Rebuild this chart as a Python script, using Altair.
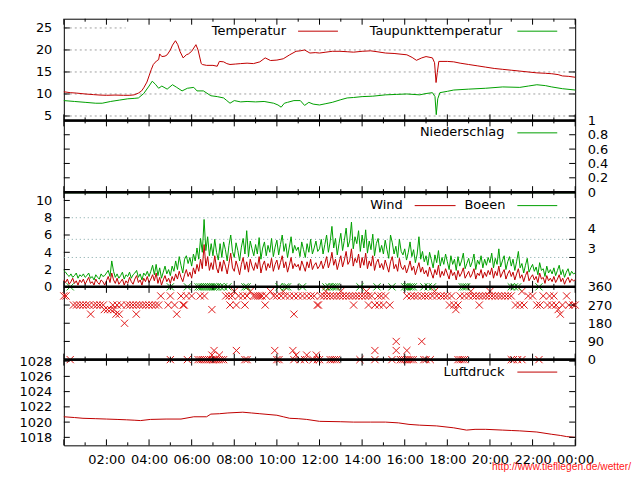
import altair as alt
import pandas as pd

# ---------------- data ----------------
temp_h = [0.0, 0.3, 0.6, 1.0, 1.4, 1.7, 2.0, 2.4, 2.8, 3.1, 3.3, 3.5, 3.65, 3.75, 3.9, 4.0, 4.1, 4.2,
          4.35, 4.45, 4.5, 4.6, 4.75, 4.85, 5.0, 5.1, 5.24, 5.35, 5.45, 5.6, 5.75, 5.85, 6.0, 6.2, 6.3,
          6.45, 6.5, 6.7, 7.0, 7.2, 7.3, 7.5, 7.65, 7.8, 8.05, 8.3, 8.6, 8.9, 9.2, 9.45, 9.7, 10.0, 10.3,
          10.6, 10.9, 11.1, 11.3, 11.55, 11.8, 12.0, 12.3, 12.6, 12.96, 13.3, 13.6, 14.0, 14.4, 14.7,
          15.1, 15.5, 16.1, 16.35, 16.55, 16.8, 17.0, 17.3, 17.4, 17.47, 17.53, 17.6, 18.0, 18.3, 18.6,
          19.0, 19.4, 19.8, 20.2, 20.6, 21.0, 21.4, 21.8, 22.2, 22.6, 22.9, 23.2, 23.4, 23.7, 24.0]
temp_v = [10.5, 10.3, 10.2, 10.0, 9.85, 9.75, 9.7, 9.75, 9.7, 9.7, 9.8, 10.2, 10.7, 11.4, 12.7, 14.1, 15.5, 16.7,
          17.5, 17.8, 19.1, 18.5, 18.6, 18.9, 20.0, 21.1, 22.1, 21.2, 19.7, 18.2, 18.9, 19.1, 19.7, 21.2, 20.0,
          16.9, 16.7, 16.5, 16.5, 16.3, 17.4, 17.3, 16.9, 16.7, 16.8, 16.9, 17.0, 16.9, 17.3, 18.2, 17.6, 17.7, 18.0,
          18.9, 19.7, 19.8, 20.0, 19.3, 19.4, 19.3, 19.5, 19.7, 19.7, 19.6, 19.5, 19.7, 19.8, 19.6,
          19.3, 19.2, 18.9, 18.3, 17.65, 18.2, 18.5, 18.2, 17.1, 12.6, 14.9, 17.4, 17.4, 17.3, 17.0,
          16.7, 16.4, 16.1, 15.8, 15.6, 15.4, 15.2, 15.0, 14.8, 14.7, 14.6, 14.4, 14.1, 14.0, 13.8]

dew_h = [0.0, 0.5, 1.0, 1.5, 1.8, 2.2, 2.6, 3.0, 3.3, 3.5, 3.75, 4.0, 4.15, 4.3, 4.45, 4.6, 4.85, 5.1,
         5.3, 5.55, 5.8, 6.1, 6.25, 6.55, 6.9, 7.2, 7.5, 7.65, 7.8, 8.0, 8.3, 8.6, 9.0, 9.4, 9.85, 10.05,
         10.2, 10.35, 10.5, 10.8, 11.1, 11.3, 11.5, 11.7, 12.0, 12.3, 12.6, 13.0, 13.3, 13.6, 14.0, 14.5,
         15.1, 15.6, 16.1, 16.7, 17.0, 17.3, 17.42, 17.48, 17.55, 17.65, 18.0, 18.3, 19.0, 19.8, 20.6,
         21.4, 21.8, 22.2, 22.6, 22.9, 23.4, 24.0]
dew_v = [8.5, 8.3, 8.1, 7.9, 7.9, 8.3, 8.6, 8.9, 9.0, 9.1, 10.1, 11.8, 12.9, 12.2, 11.3, 11.8, 11.1, 12.1,
         11.5, 10.7, 11.3, 11.5, 10.7, 10.7, 9.6, 9.4, 9.1, 8.5, 7.9, 8.5, 8.2, 8.3, 8.2, 8.3, 7.9, 7.5,
         7.0, 7.9, 8.1, 8.5, 8.5, 7.4, 8.1, 7.7, 7.5, 7.8, 8.1, 8.7, 9.1, 9.2, 9.4, 9.5,
         9.8, 9.9, 10.0, 9.8, 10.1, 10.3, 9.4, 5.3, 8.9, 10.3, 10.6, 10.9, 11.1, 11.3, 11.6,
         11.5, 11.8, 12.1, 11.9, 11.6, 11.2, 10.9]

rain_h = [0, 6, 12, 18, 24]
rain_v = [0, 0, 0, 0, 0]

# wind and gusts, one value every 5 minutes (00:00 ... 24:00)
wind_v = [
    0.8, 0.5, 0.9, 0.3, 0.6, 1.0, 0.4, 0.7, 0.2, 0.8, 0.5, 0.9,
    0.3, 0.7, 1.1, 0.4, 0.6, 0.2, 0.9, 0.5, 0.3, 0.8, 0.6, 0.2,
    0.7, 1.2, 0.5, 1.6, 0.8, 0.4, 1.0, 0.3, 0.6, 0.9, 0.2, 0.7,
    0.4, 1.1, 0.6, 0.3, 0.9, 1.3, 0.5, 0.8, 0.2, 1.0, 0.6, 1.2,
    0.5, 0.9, 1.4, 0.7, 1.6, 0.4, 1.1, 0.2, 0.8, 1.3, 0.6, 1.0,
    0.4, 1.2, 0.7, 1.5, 0.9, 1.8, 1.1, 0.6, 1.4, 2.0, 1.2, 1.7,
    1.0, 2.2, 1.5, 2.6, 1.8, 3.2, 2.1, 4.9, 2.4, 3.5, 1.9, 2.8,
    2.0, 3.6, 2.2, 1.6, 2.9, 1.8, 3.1, 2.4, 1.5, 2.7, 3.9, 2.2,
    1.8, 3.0, 2.3, 1.4, 2.6, 3.4, 2.0, 2.9, 1.7, 3.2, 2.4, 1.9,
    2.8, 2.1, 3.5, 1.6, 2.5, 3.0, 1.9, 2.7, 2.2, 3.3, 1.8, 2.6,
    3.1, 2.0, 2.8, 3.6, 2.2, 2.9, 1.7, 2.5, 3.4, 2.1, 2.7, 2.3,
    2.6, 1.9, 3.0, 2.4, 1.8, 2.9, 2.2, 3.2, 2.0, 2.5, 2.8, 2.1,
    2.4, 3.0, 2.1, 2.7, 3.5, 2.2, 2.9, 4.0, 2.5, 3.2, 2.0, 2.8,
    3.6, 2.3, 3.1, 4.1, 2.6, 3.0, 4.4, 2.4, 3.3, 2.8, 3.8, 2.2,
    3.4, 2.5, 3.9, 2.1, 3.0, 2.4, 3.6, 1.9, 2.8, 3.2, 2.2, 2.7,
    2.0, 3.1, 2.4, 1.7, 2.9, 3.5, 2.1, 2.6, 1.8, 3.3, 2.3, 2.0,
    2.5, 1.6, 2.2, 3.0, 1.9, 2.4, 1.4, 2.1, 2.8, 1.7, 2.3, 1.5,
    1.9, 1.2, 2.3, 1.6, 1.0, 2.0, 1.4, 2.5, 1.1, 1.8, 1.3, 2.1,
    1.5, 0.9, 2.0, 1.3, 1.7, 0.8, 1.9, 1.2, 1.6, 2.2, 1.0, 1.4,
    1.8, 1.1, 1.5, 2.1, 0.9, 1.6, 1.3, 2.0, 1.0, 1.7, 1.2, 1.9,
    1.4, 2.2, 1.0, 1.8, 1.3, 2.4, 1.1, 1.6, 2.0, 0.9, 1.5, 1.9,
    1.2, 1.7, 0.8, 1.5, 2.1, 1.0, 1.4, 0.6, 1.3, 1.8, 0.7, 1.1,
    1.4, 0.8, 1.2, 0.5, 1.6, 0.9, 1.1, 0.4, 1.3, 0.7, 1.0, 0.6,
    1.2, 0.5, 0.9, 1.4, 0.6, 1.0, 0.3, 0.8, 1.1, 0.5, 0.9, 0.7,
    0.8]
gust_v = [
    1.9, 1.7, 1.4, 1.2, 1.5, 1.1, 1.3, 1.6, 1.0, 1.4, 1.2, 1.5,
    1.1, 1.3, 1.6, 1.0, 1.2, 0.8, 1.4, 1.1, 0.9, 1.5, 1.2, 1.3,
    1.6, 1.9, 1.2, 3.0, 1.8, 1.1, 1.5, 1.0, 1.3, 1.7, 0.9, 1.4,
    1.2, 1.7, 1.0, 1.4, 1.6, 1.9, 1.1, 1.5, 0.8, 1.6, 1.3, 1.8,
    1.2, 1.8, 2.5, 1.4, 2.6, 1.3, 2.2, 1.0, 1.7, 2.4, 1.5, 2.0,
    1.3, 2.4, 1.8, 3.0, 2.0, 3.5, 2.5, 1.6, 3.2, 3.6, 2.7, 3.4,
    2.4, 3.8, 3.0, 4.5, 3.2, 5.6, 4.0, 7.8, 4.2, 5.8, 3.6, 5.0,
    3.6, 5.5, 4.0, 3.1, 5.0, 3.4, 5.2, 4.3, 3.0, 4.8, 6.0, 4.1,
    3.4, 5.1, 4.2, 3.0, 4.6, 5.6, 3.8, 6.5, 3.5, 5.3, 4.4, 3.6,
    4.9, 3.8, 5.7, 3.2, 4.5, 5.2, 3.6, 4.8, 4.0, 5.6, 3.5, 4.6,
    5.4, 3.7, 4.9, 6.0, 4.1, 5.0, 3.4, 4.6, 5.8, 3.9, 4.8, 4.2,
    4.6, 3.5, 5.2, 4.3, 3.4, 5.0, 4.0, 5.5, 3.8, 4.5, 5.3, 4.1,
    4.4, 5.5, 3.8, 4.9, 6.0, 4.0, 5.2, 7.0, 4.5, 5.6, 3.7, 5.0,
    6.2, 4.2, 5.4, 6.8, 4.6, 5.3, 7.5, 4.4, 5.8, 5.0, 6.5, 4.1,
    6.0, 4.5, 6.6, 3.9, 5.3, 4.3, 6.1, 3.6, 5.0, 5.6, 4.0, 4.8,
    3.8, 5.4, 4.3, 3.3, 6.0, 5.1, 3.8, 4.7, 3.4, 5.5, 4.1, 3.7,
    4.4, 3.1, 4.0, 5.2, 3.5, 4.3, 2.8, 3.8, 5.8, 3.2, 4.1, 2.9,
    3.6, 2.5, 4.0, 3.1, 2.2, 3.7, 2.8, 4.2, 2.4, 3.4, 2.6, 3.8,
    2.9, 2.0, 3.6, 2.6, 3.2, 1.9, 3.5, 2.4, 3.0, 3.9, 2.1, 2.7,
    3.3, 2.3, 2.9, 3.8, 2.0, 3.1, 2.6, 3.6, 2.2, 3.2, 2.5, 3.4,
    2.8, 3.9, 2.2, 3.3, 2.6, 4.4, 2.3, 3.0, 3.6, 2.0, 2.9, 3.5,
    2.4, 3.2, 1.9, 2.9, 4.1, 2.2, 2.7, 1.6, 2.5, 3.3, 1.7, 2.2,
    2.6, 1.8, 2.3, 1.4, 2.8, 1.9, 2.1, 1.2, 2.4, 1.6, 2.0, 1.5,
    2.2, 1.3, 1.9, 2.5, 1.4, 2.0, 1.1, 1.7, 2.1, 1.3, 1.8, 1.5,
    1.6]
wind_h = [i / 12 for i in range(len(wind_v))]

# wind direction (hours at which each compass direction was recorded)
dir_315_h = [0.0, 0.1, 4.55, 5.0, 5.5, 5.75, 6.0, 6.4, 6.6, 7.6, 7.75, 7.9, 8.2, 8.4, 8.6, 8.9, 9.0, 9.1,
             9.2, 9.3, 9.5, 9.85, 10.0, 10.2, 10.4, 10.6, 10.8, 11.0, 11.2, 11.4, 11.6, 11.75, 12.05, 12.2,
             12.35, 12.5, 12.65, 12.8, 12.95, 13.1, 13.25, 13.4, 13.55, 13.7, 13.85, 14.0, 14.15, 14.3,
             14.45, 14.75, 14.9, 15.1, 16.1, 16.3, 16.45, 16.6, 16.8, 16.95, 17.1, 17.3, 17.5, 17.7, 17.85,
             18.0, 18.2, 18.6, 18.8, 19.0, 19.2, 19.35, 19.5, 19.65, 19.8, 19.95, 20.1, 20.25, 20.4, 20.55,
             20.7, 20.85, 21.0, 21.8, 22.0, 22.5, 22.8, 23.0, 23.6]
dir_337_h = [8.0, 8.75, 9.7, 10.3, 12.3, 13.0, 14.2, 17.4, 19.1, 20.0, 21.5]
dir_270_h = [0.45, 0.6, 0.75, 0.9, 1.05, 1.2, 1.4, 1.55, 1.7, 1.85, 2.3, 2.5, 2.7, 2.95, 3.1, 3.25, 3.4,
             3.55, 3.7, 3.85, 4.0, 4.15, 4.3, 4.45, 4.9, 5.2, 5.6, 5.65, 7.8, 8.1, 8.5, 9.45, 11.9, 11.95,
             13.6, 14.3, 14.6, 14.8, 15.0, 15.3, 18.1, 18.3, 18.5, 19.5, 21.2, 21.4, 21.6, 22.2, 22.35,
             22.7, 22.9, 23.1, 23.4, 23.7, 23.9, 24.0]
dir_247_h = [1.9, 2.05, 2.2, 2.35, 6.95, 18.4, 23.2]
dir_225_h = [1.26, 2.45, 2.6, 3.4, 5.3, 10.8, 23.3]
dir_180_h = [2.85]
dir_90_h = [15.6, 16.8]
dir_45_h = [7.05, 8.1, 9.9, 10.75, 14.6, 15.6, 16.1]
dir_22_h = [6.95, 7.3, 10.9, 11.4, 11.85]
dir_0_h = [0.3, 5.0, 5.8, 6.3, 6.4, 6.5, 6.6, 6.7, 6.8, 6.9, 7.0, 7.1, 7.2, 7.3, 7.4, 7.5, 8.5, 8.6,
           10.0, 10.1, 10.8, 11.1, 11.3, 11.7, 11.9, 12.0, 12.5, 12.6, 12.7, 12.8, 13.9, 14.6, 15.4,
           15.8, 15.9, 16.0, 16.1, 16.2, 16.3, 16.4, 16.9, 17.0, 17.2, 18.5, 18.6, 18.7, 18.8, 21.0,
           21.1, 21.3, 21.5, 22.3]
dir_gust_360_h = [0.3, 5.0, 5.8, 6.3, 6.4, 6.5, 6.6, 6.7, 6.8, 6.9, 7.0, 7.1, 7.2, 7.35, 7.5, 7.7, 8.5,
                  8.6, 10.1, 10.4, 10.5, 11.2, 12.3, 12.45, 12.6, 12.7, 12.8, 13.9, 14.7, 15.4, 16.0,
                  16.1, 16.2, 16.3, 16.4, 16.9, 17.1, 17.3, 18.7, 18.8, 18.9, 21.0, 21.15, 21.3, 22.3]

pres_h = [0.0, 0.5, 0.9, 1.5, 2.0, 2.5, 2.95, 3.3, 3.6, 4.06, 4.8, 5.5, 6.1, 6.7, 6.9, 7.3, 7.7, 8.4,
          8.8, 9.2, 10.0, 10.3, 10.6, 11.0, 11.4, 12.0, 13.0, 13.6, 14.4, 15.1, 15.7, 16.2, 16.7, 17.5,
          18.3, 18.9, 19.3, 19.8, 20.6, 21.0, 21.4, 22.2, 22.9, 23.3, 23.6, 24.0]
pres_v = [1020.7, 1020.6, 1020.5, 1020.45, 1020.4, 1020.35, 1020.3, 1020.25, 1020.2, 1020.35, 1020.4,
          1020.4, 1020.7, 1020.7, 1021.05, 1021.1, 1021.2, 1021.3, 1021.2, 1021.1, 1020.9, 1020.7, 1020.5,
          1020.45, 1020.35, 1020.1, 1020.05, 1020.0, 1020.0, 1020.0, 1019.9, 1019.7, 1019.6, 1019.5,
          1019.25, 1018.95, 1019.05, 1019.05, 1018.95, 1018.9, 1018.85, 1018.7, 1018.4, 1018.25, 1018.1,
          1018.0]

temp_ticks = [5, 10, 15, 20, 25]
rain_ticks = [0, 0.2, 0.4, 0.6, 0.8, 1]
wind_ticks = [0, 2, 4, 6, 8, 10]
bft_edges = [3.4, 5.5, 8.0]
bft_label_pos = [4.45, 6.75]
dir_ticks = [0, 90, 180, 270, 360]
pres_ticks = [1018, 1020, 1022, 1024, 1026, 1028]
major_hours = list(range(0, 25, 2))
minor_hours = list(range(1, 24, 2))

# ---------------- styling ----------------
W = 513
H_TEMP, H_RAIN, H_WIND, H_DIR, H_PRES = 102, 72, 95, 73, 86
FONT = "DejaVu Sans"
RED = "#c00000"
GREEN = "#00a000"
XRED = "#e01818"

xscale = alt.Scale(domain=[0, 24], nice=False, zero=False)
one = pd.DataFrame({"k": [0]})


def xenc(axis=None):
    return alt.X("h:Q", scale=xscale, axis=axis, title=None)


def yaxis(orient, values, **kw):
    return alt.Axis(orient=orient, values=values, ticks=False, tickSize=0, domain=False, grid=False,
                    labelPadding=12, labelFont=FONT, labelFontSize=13, labelColor="black",
                    labelFlush=False, labelOverlap=False, title=None, minExtent=0, **kw)


def axis_layer(values, ysc, orient, **kw):
    d = pd.DataFrame({"v": values})
    return alt.Chart(d).mark_rule(opacity=0).encode(
        y=alt.Y("v:Q", scale=ysc, axis=yaxis(orient, values, **kw)),
        x=alt.value(0), x2=alt.value(1))


def frame(H, ysc, left_ticks, right_ticks, separator):
    layers = []
    for hours, ln in ((major_hours, 6), (minor_hours, 3)):
        d = pd.DataFrame({"h": hours})
        layers.append(alt.Chart(d).mark_rule(color="black").encode(
            x=xenc(), y=alt.value(0), y2=alt.value(ln)))
        layers.append(alt.Chart(d).mark_rule(color="black").encode(
            x=xenc(), y=alt.value(H - ln), y2=alt.value(H)))
    for vals, x0, x1 in ((left_ticks, 0, 6), (right_ticks, W - 6, W)):
        if vals:
            d = pd.DataFrame({"v": vals})
            layers.append(alt.Chart(d).mark_rule(color="black").encode(
                y=alt.Y("v:Q", scale=ysc, axis=None), x=alt.value(x0), x2=alt.value(x1)))
    if separator:
        layers.append(alt.Chart(one).mark_rule(color="black", strokeWidth=2.5).encode(
            x=alt.value(0), x2=alt.value(W), y=alt.value(0)))
    return layers


def legend(text, tx, y, x0, x1, color):
    return [
        alt.Chart(one).mark_text(align="right", baseline="middle", font=FONT, fontSize=13,
                                 color="black").encode(
            x=alt.value(tx), y=alt.value(y), text=alt.value(text)),
        alt.Chart(one).mark_rule(color=color, strokeWidth=1).encode(
            x=alt.value(x0), x2=alt.value(x1), y=alt.value(y + 0.5)),
    ]


def panel(layers, H):
    return alt.layer(*layers).resolve_axis(y="independent", x="independent").properties(
        width=W, height=H)


# ---------------- temperature ----------------
tsc = alt.Scale(domain=[4.0, 27.1], nice=False, zero=False)
temp_df = pd.DataFrame({"h": temp_h, "v": temp_v})
dew_df = pd.DataFrame({"h": dew_h, "v": dew_v})
t_layers = [
    alt.Chart(pd.DataFrame({"v": temp_ticks})).mark_rule(color="#a0a0a0", strokeDash=[2, 3]).encode(
        y=alt.Y("v:Q", scale=tsc, axis=None)),
    alt.Chart(one).mark_rect(color="white").encode(
        x=alt.value(62), x2=alt.value(512), y=alt.value(1), y2=alt.value(21)),
    alt.Chart(temp_df).mark_line(color=RED, strokeWidth=1).encode(
        x=xenc(), y=alt.Y("v:Q", scale=tsc, axis=None)),
    alt.Chart(dew_df).mark_line(color=GREEN, strokeWidth=1).encode(
        x=xenc(), y=alt.Y("v:Q", scale=tsc, axis=None)),
    *legend("Temperatur", 223, 12, 235, 275, RED),
    *legend("Taupunkttemperatur", 440, 12, 455, 495, GREEN),
    axis_layer(temp_ticks, tsc, "left"),
    *frame(H_TEMP, tsc, temp_ticks, temp_ticks, False),
]
temp_chart = panel(t_layers, H_TEMP)

# ---------------- precipitation ----------------
rsc = alt.Scale(domain=[0, 1], nice=False, zero=False)
rain_df = pd.DataFrame({"h": rain_h, "v": rain_v})
r_layers = [
    alt.Chart(rain_df).mark_line(color=GREEN).encode(x=xenc(), y=alt.Y("v:Q", scale=rsc, axis=None)),
    *legend("Niederschlag", 442, 12, 455, 495, GREEN),
    axis_layer(rain_ticks, rsc, "right", format="~g"),
    *frame(H_RAIN, rsc, rain_ticks, rain_ticks, True),
]
rain_chart = panel(r_layers, H_RAIN)

# ---------------- wind ----------------
wsc = alt.Scale(domain=[0, 10.96], nice=False, zero=False)
wind_df = pd.DataFrame({"h": wind_h, "w": wind_v, "g": gust_v})
w_layers = [
    alt.Chart(pd.DataFrame({"v": bft_edges})).mark_rule(color="#7fa6a6", strokeDash=[1, 3]).encode(
        y=alt.Y("v:Q", scale=wsc, axis=None)),
    alt.Chart(wind_df).mark_line(color=RED, strokeWidth=1).encode(
        x=xenc(), y=alt.Y("w:Q", scale=wsc, axis=None)),
    alt.Chart(wind_df).mark_line(color=GREEN, strokeWidth=1).encode(
        x=xenc(), y=alt.Y("g:Q", scale=wsc, axis=None)),
    *legend("Wind", 340, 13, 352, 393, RED),
    *legend("Boeen", 443, 13, 455, 495, GREEN),
    axis_layer(wind_ticks, wsc, "left"),
    axis_layer(bft_label_pos, wsc, "right", labelExpr="datum.value < 5 ? '3' : '4'"),
    *frame(H_WIND, wsc, wind_ticks, bft_edges, True),
]
wind_chart = panel(w_layers, H_WIND)

# ---------------- wind direction ----------------
dsc = alt.Scale(domain=[0, 360], nice=False, zero=False)
groups = [(dir_337_h, 337.5), (dir_315_h, 315), (dir_270_h, 270), (dir_247_h, 247.5), (dir_225_h, 225),
          (dir_180_h, 180), (dir_90_h, 90), (dir_45_h, 45), (dir_22_h, 22.5), (dir_0_h, 0)]
dir_df = pd.DataFrame([{"h": h, "d": d} for hs, d in groups for h in hs])
gdir_df = pd.DataFrame({"h": dir_gust_360_h, "d": [360] * len(dir_gust_360_h)})
XSHAPE = "M-1,-1L1,1M-1,1L1,-1"
d_layers = [
    alt.Chart(dir_df).mark_point(shape=XSHAPE, size=52, filled=False, color=XRED, strokeWidth=1,
                                 opacity=1).encode(x=xenc(), y=alt.Y("d:Q", scale=dsc, axis=None)),
    alt.Chart(gdir_df).mark_point(shape=XSHAPE, size=52, filled=False, color="#10a010", strokeWidth=1,
                                  opacity=1).encode(x=xenc(), y=alt.Y("d:Q", scale=dsc, axis=None)),
    axis_layer(dir_ticks, dsc, "right"),
    *frame(H_DIR, dsc, [90, 180, 270], dir_ticks, True),
]
dir_chart = panel(d_layers, H_DIR)

# ---------------- pressure ----------------
psc = alt.Scale(domain=[1016.95, 1028.2], nice=False, zero=False)
pres_df = pd.DataFrame({"h": pres_h, "v": pres_v})
xaxis = alt.Axis(values=major_hours[1:], ticks=False, tickSize=0, domain=False, grid=False,
                 labelPadding=8, labelFont=FONT, labelFontSize=13, labelColor="black",
                 labelFlush=False, labelOverlap=False, title=None,
                 labelExpr="(datum.value % 24 < 10 ? '0' : '') + (datum.value % 24) + ':00'")
p_layers = [
    alt.Chart(pres_df).mark_line(color=RED, strokeWidth=1).encode(
        x=xenc(), y=alt.Y("v:Q", scale=psc, axis=None)),
    *legend("Luftdruck", 442, 12, 455, 495, RED),
    axis_layer(pres_ticks, psc, "left", format="d"),
    alt.Chart(pd.DataFrame({"h": major_hours})).mark_rule(opacity=0).encode(
        x=xenc(xaxis), y=alt.value(0), y2=alt.value(1)),
    alt.Chart(one).mark_text(align="right", baseline="middle", font="Liberation Sans", fontSize=10.3,
                             color="#ff2020").encode(
        x=alt.value(569), y=alt.value(107.5), text=alt.value("http://www.tiefliegen.de/wetter/")),
    *frame(H_PRES, psc, pres_ticks, pres_ticks, True),
]
pres_chart = panel(p_layers, H_PRES)

chart = alt.vconcat(temp_chart, rain_chart, wind_chart, dir_chart, pres_chart,
                    spacing=0, bounds="flush").resolve_scale(y="independent").properties(
    padding={"left": 10, "top": 9, "right": 0, "bottom": 0}
).configure_view(stroke="black", strokeWidth=1).configure_axis(labelFlush=False)

chart.save("out.html", embed_options={"renderer": "svg", "actions": False})
